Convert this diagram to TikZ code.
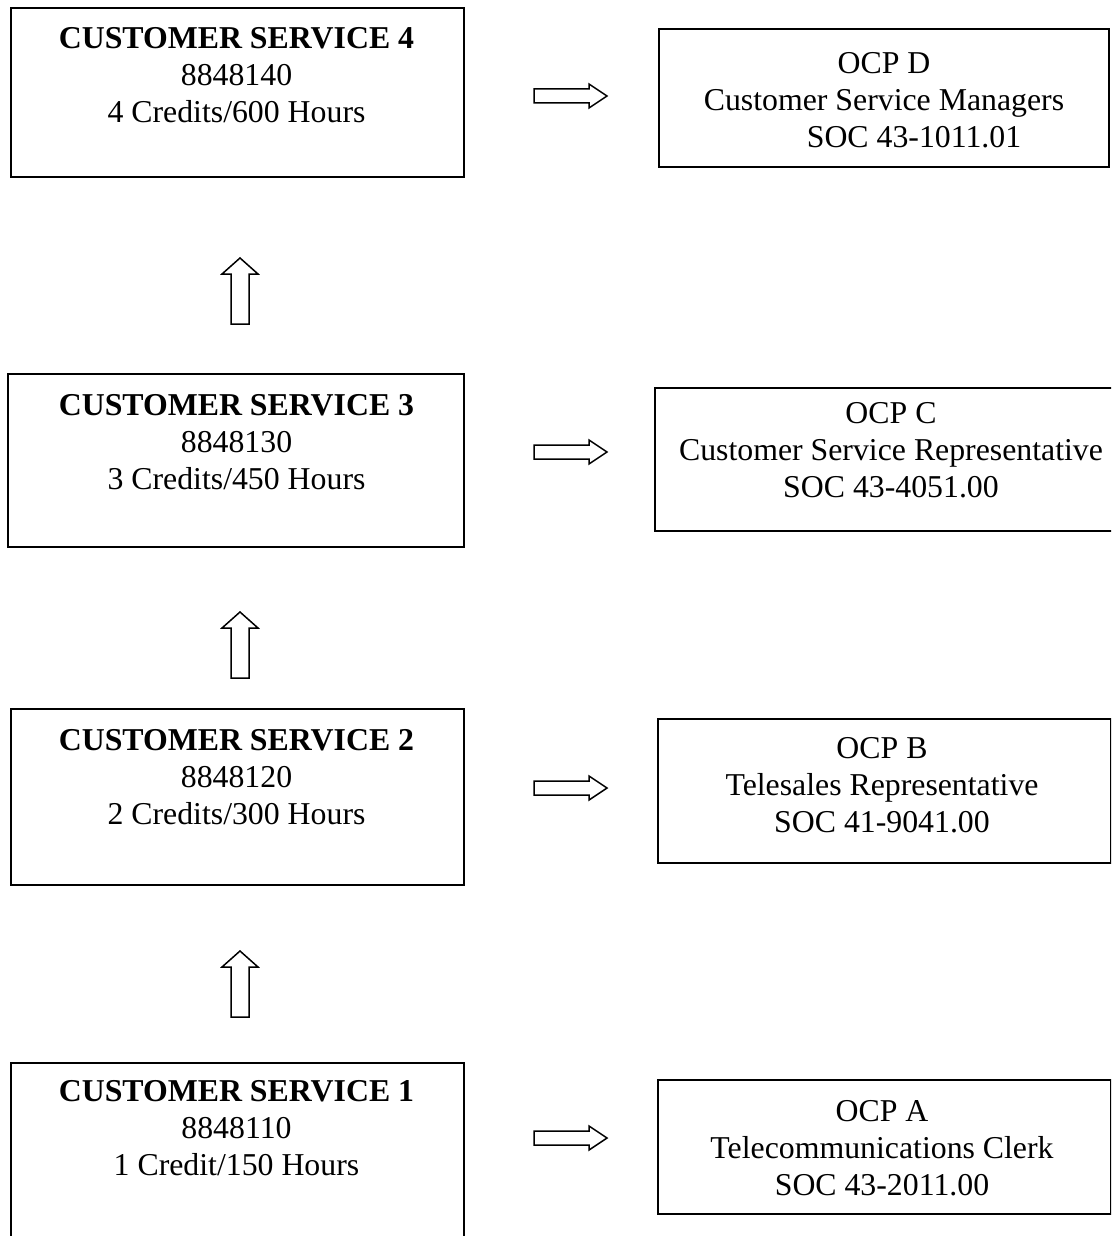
\documentclass[tikz,border=0pt]{standalone}
\usepackage{fontspec}
\setmainfont{Liberation Serif}
\begin{document}
\begin{tikzpicture}[x=1pt,y=-1pt,
  box/.style={draw=black,line width=1.6pt,inner sep=0pt},
  txt/.style={align=center,inner sep=0pt,font=\fontsize{31.8pt}{37pt}\selectfont},
  blockarrow/.style={draw=black,line width=1.5pt,fill=white,line join=miter}]
\useasboundingbox (0,0) rectangle (1111,1236);
\clip (0,0) rectangle (1111,1236);
% left column boxes
\node[box,minimum width=453pt,minimum height=169pt,anchor=north west] (cs4) at (10,7) {};
\node[box,minimum width=456pt,minimum height=173pt,anchor=north west] (cs3) at (7,373) {};
\node[box,minimum width=453pt,minimum height=176pt,anchor=north west] (cs2) at (10,708) {};
\node[box,minimum width=453pt,minimum height=200pt,anchor=north west] (cs1) at (10,1062) {};
% right column boxes
\node[box,minimum width=450pt,minimum height=138pt,anchor=north west] (ocpd) at (658,28) {};
\node[box,minimum width=480pt,minimum height=143pt,anchor=north west] (ocpc) at (654,387) {};
\node[box,minimum width=453pt,minimum height=144pt,anchor=north west] (ocpb) at (657,718) {};
\node[box,minimum width=453pt,minimum height=134pt,anchor=north west] (ocpa) at (657,1079) {};
% texts
\node[txt] (t4) at (236.5,75) {\textbf{CUSTOMER SERVICE 4}\\8848140\\4 Credits/600 Hours};
\node[txt] (t3) at (236.5,442) {\textbf{CUSTOMER SERVICE 3}\\8848130\\3 Credits/450 Hours};
\node[txt] (t2) at (236.5,777) {\textbf{CUSTOMER SERVICE 2}\\8848120\\2 Credits/300 Hours};
\node[txt] (t1) at (236.5,1128) {\textbf{CUSTOMER SERVICE 1}\\8848110\\1 Credit/150 Hours};
\node[txt] (td) at (884,100) {OCP D\\Customer Service Managers\\\hspace*{60pt}SOC 43-1011.01};
\node[txt] (tc) at (891,450) {OCP C\\Customer Service Representative\\SOC 43-4051.00};
\node[txt] (tb) at (882,785) {OCP B\\Telesales Representative\\SOC 41-9041.00};
\node[txt] (ta) at (882,1148) {OCP A\\Telecommunications Clerk\\SOC 43-2011.00};
% right block arrows
\foreach \yy/\nm in {96/ra4,452/ra3,788/ra2,1138/ra1}{
  \coordinate (\nm) at (534,\yy);
  \draw[blockarrow] (\nm) ++(0,-7) -- ++(55,0) -- ++(0,-5) -- ++(18,12) -- ++(-18,12) -- ++(0,-5) -- ++(-55,0) -- cycle;
}
% up block arrows
\foreach \yy/\nm in {258/ua3,612/ua2,951/ua1}{
  \coordinate (\nm) at (240,\yy);
  \draw[blockarrow] (\nm) -- ++(18,16) -- ++(-9,0) -- ++(0,50) -- ++(-18,0) -- ++(0,-50) -- ++(-9,0) -- cycle;
}
\end{tikzpicture}
\end{document}
